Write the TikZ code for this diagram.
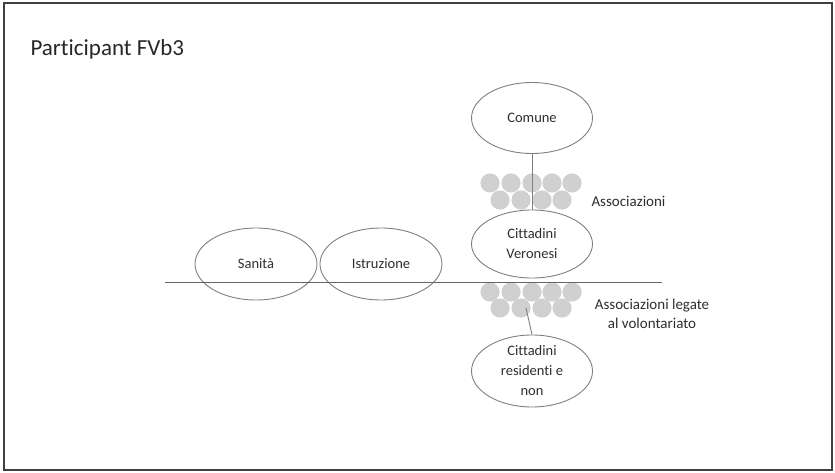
\documentclass[tikz,border=0pt]{standalone}
\usepackage{fontspec}
\setmainfont[Ligatures=NoCommon]{Carlito}
\usetikzlibrary{shapes.geometric}
\definecolor{textgray}{HTML}{2E2E2E}
\definecolor{linegray}{HTML}{7F7F7F}
\definecolor{dotgray}{HTML}{D0D0D0}
\tikzset{
  oval/.style={ellipse, draw=linegray, line width=0.9pt, minimum width=121pt,
    minimum height=71pt, inner sep=0pt, align=center, text=textgray,
    font=\fontsize{14.5}{20}\selectfont},
  lbl/.style={align=center, text=textgray, font=\fontsize{15}{19}\selectfont},
  dot/.style={fill=dotgray, draw=none},
  link/.style={draw=linegray, line width=0.9pt}
}
\begin{document}
\begin{tikzpicture}[x=1pt,y=-1pt]
      \useasboundingbox (0,0) rectangle (835,473);
      % cornice
      \draw[line width=2pt, draw=black!75] (4,3) rectangle (832,470);
      \node[anchor=base west, text=black!85, font=\fontsize{23}{27}\selectfont] (titolo) at (27,56) {Participant FVb3};
      % associazioni sopra
      \foreach \x in {490,511,532,552,572} \fill[dot] (\x,183) circle (9.6);
      \foreach \x in {500,521,542,562} \fill[dot] (\x,200) circle (9.6);
      % associazioni sotto
      \foreach \x in {490,511,532,552,572} \fill[dot] (\x,292) circle (9.6);
      \foreach \x in {500,521,542,562} \fill[dot] (\x,308) circle (9.6);
      % ellissi
      \node[oval] (comune) at (532,118) {Comune};
      \node[oval, minimum height=68pt] (veronesi) at (532,244) {Cittadini\\Veronesi};
      \node[oval, minimum height=72pt] (residenti) at (532,371) {Cittadini\\residenti e\\non};
      \node[oval, minimum width=122pt, minimum height=72pt] (sanita) at (256,264) {Sanità};
      \node[oval, minimum width=122pt, minimum height=72pt] (istruzione) at (381,264) {Istruzione};
      % etichette
      \node[lbl, anchor=west] (assoc) at (588,201) {Associazioni};
      \node[lbl] (assocvol) at (652,314) {Associazioni legate\\al volontariato};
      % linee
      \coordinate (lineaA) at (165,282);
      \coordinate (lineaB) at (662,282);
      \coordinate (gruppo) at (526,308);
      \draw[draw=black!60, line width=1pt] (lineaA) -- (lineaB);
      \draw[link] (comune) -- (veronesi);
      \draw[link] (gruppo) -- (residenti.north);
    \end{tikzpicture}
\end{document}
